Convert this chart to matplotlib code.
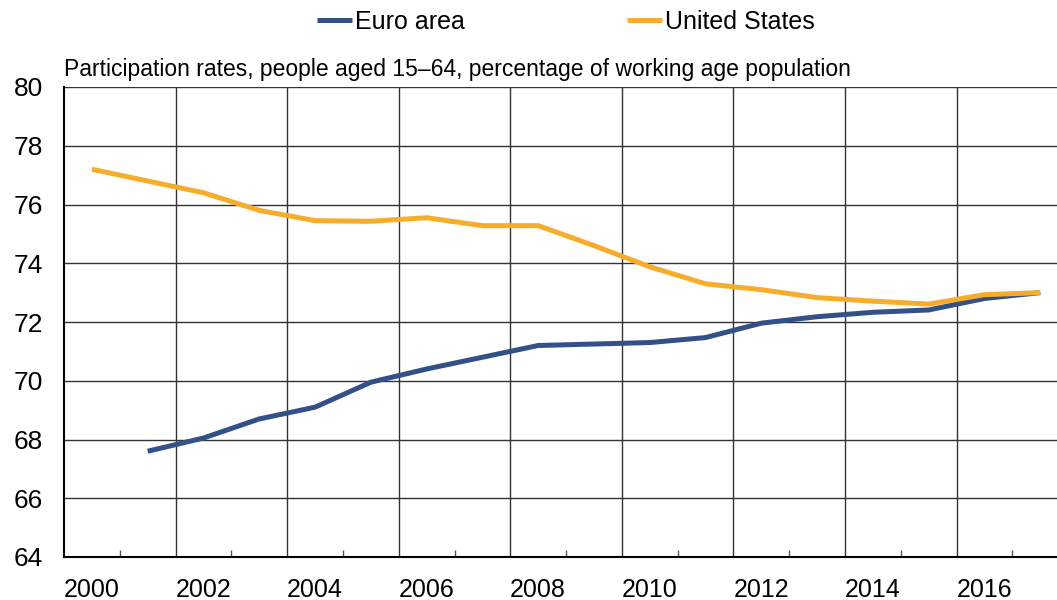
import matplotlib
matplotlib.use("Agg")
import matplotlib.pyplot as plt
import numpy as np

plt.rcParams['font.family'] = ['Liberation Sans', 'DejaVu Sans']

years = list(range(2000, 2018))
# Euro area starts in 2001
euro_years = list(range(2001, 2018))
euro_area = [67.6, 68.05, 68.7, 69.1, 69.95, 70.4, 70.8, 71.2, 71.25, 71.3,
             71.47, 71.96, 72.18, 72.33, 72.41, 72.8, 73.0]
united_states = [77.2, 76.8, 76.4, 75.8, 75.45, 75.43, 75.55, 75.28, 75.28, 74.6,
                 73.88, 73.3, 73.1, 72.83, 72.71, 72.61, 72.93, 73.0]

label_years = list(range(2000, 2017, 2))
y_ticks = list(range(64, 81, 2))

blue = '#335088'
orange = '#f8ac2c'

fig = plt.figure(figsize=(10.57, 6), dpi=100)
ax = fig.add_axes([64 / 1057, 1 - 557 / 600, 1 - 64 / 1057, (557 - 87) / 600])

ax.plot(euro_years, euro_area, color=blue, lw=3.6, label='Euro area',
        solid_capstyle='butt', zorder=3)
ax.plot(years, united_states, color=orange, lw=3.6, label='United States',
        solid_capstyle='butt', zorder=3)

ax.set_xlim(1999.5, 2017.3)
ax.set_ylim(64, 80)

# labels under the data points, small ticks and grid lines on category boundaries
ax.set_xticks(label_years)
ax.set_xticklabels([str(y) for y in label_years])
ax.set_xticks([y + 0.5 for y in label_years], minor=True)
ax.tick_params(axis='x', which='major', length=0, pad=15, labelsize=18)
ax.tick_params(axis='x', which='minor', length=5, direction='in', width=1, color='#555555')
for y in label_years:
    ax.axvline(y + 1.5, color='#333333', lw=1.0, zorder=1)

ax.set_yticks(y_ticks)
ax.tick_params(axis='y', length=0, pad=15, labelsize=19)
ax.grid(axis='y', color='#333333', lw=1.0, zorder=1)

for side in ['top', 'right']:
    ax.spines[side].set_visible(False)
ax.spines['left'].set_linewidth(1.5)
ax.spines['bottom'].set_linewidth(1.5)

ax.text(0.0, 1.012, 'Participation rates, people aged 15\u201364, percentage of working age population',
        transform=ax.transAxes, ha='left', va='bottom', fontsize=16.5)

fig.legend(loc='center', bbox_to_anchor=(566 / 1057, 1 - 22 / 600), ncol=2, frameon=False,
           fontsize=18, handlelength=1.4, handletextpad=0.1, columnspacing=6.5)

fig.savefig('out.png', dpi=100)
